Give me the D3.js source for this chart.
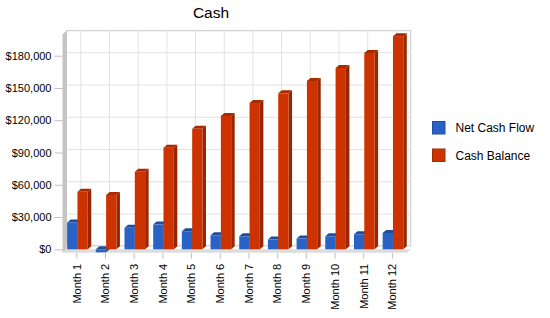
<!DOCTYPE html>
<html>
<head>
<meta charset="utf-8">
<script src="https://cdn.jsdelivr.net/npm/d3@7"></script>
<style>
	body { margin: 0; background: #fff; }
	text { font-family: "Liberation Sans", Arial, sans-serif; }
</style>
</head>
<body>
<div id="chart"></div>
<script>

var months = ["Month 1", "Month 2", "Month 3", "Month 4", "Month 5", "Month 6",
			"Month 7", "Month 8", "Month 9", "Month 10", "Month 11", "Month 12"];
var netCashFlow = [25000, -2800, 20000, 23000, 16800, 13000, 12100, 9000, 10000, 12100, 14000, 15200];
var cashBalance = [53400, 50600, 72000, 94500, 112000, 124000, 136000, 145000, 156500, 168600, 182600, 198200];
var seriesNames = ["Net Cash Flow", "Cash Balance"];
var yTicks = [0, 30000, 60000, 90000, 120000, 150000, 180000];

function init(){

	var w = 550;
	var h = 318;

	//front plane of the plot and the 3d depth of walls / bars
	var left = 62.5, right = 406.7, top = 34.2, bottom = 249.3;
	var wallDx = 4, wallDy = 3.5;
	var barDx = 3.5, barDy = 3;

	var faces = [
		{front: "#2962c4", top: "#1f4c9e", side: "#1d478f", stroke: "#1f4c9e"},
		{front: "#cc3300", top: "#a82a00", side: "#992600", stroke: "#a82a00"}
	];

	var svg = d3.select("#chart")
				.append("svg")
				.attr("width", w)
				.attr("height", h);

	var x = d3.scaleBand()
				.domain(months)
				.range([left, right]);

	//two bars per month, pushed a little right of the centre
	var sub = d3.scaleBand()
				.domain([0, 1])
				.range([0.6, x.bandwidth() + 0.6])
				.paddingOuter(0.39);

	var y = d3.scaleLinear()
				.domain([0, 200000])
				.range([bottom, top]);

	//back wall
	svg.append("rect")
		.attr("x", left + wallDx)
		.attr("y", top - wallDy)
		.attr("width", right - left)
		.attr("height", bottom - top)
		.attr("fill", "#fff")
		.attr("stroke", "#c8c8c8");

	//horizontal grid lines on the back wall
	svg.selectAll("line.hgrid")
		.data(yTicks.slice(1))
		.enter()
		.append("line")
		.attr("class", "hgrid")
		.attr("x1", left + wallDx)
		.attr("x2", right + wallDx)
		.attr("y1", function(d) { return y(d) - wallDy + 0.5; })
		.attr("y2", function(d) { return y(d) - wallDy + 0.5; })
		.attr("stroke", "#e2e2e2");

	//vertical grid lines
	svg.selectAll("line.vgrid")
		.data(months)
		.enter()
		.append("line")
		.attr("class", "vgrid")
		.attr("x1", function(d) { return x(d) + x.bandwidth() / 2 + wallDx; })
		.attr("x2", function(d) { return x(d) + x.bandwidth() / 2 + wallDx; })
		.attr("y1", top - wallDy)
		.attr("y2", bottom)
		.attr("stroke", "#e2e2e2");

	//left wall
	svg.append("path")
		.attr("d", "M" + left + "," + (top) + "L" + (left + wallDx) + "," + (top - wallDy) +
			"L" + (left + wallDx) + "," + bottom + "L" + left + "," + (bottom + wallDy) + "Z")
		.attr("fill", "#c4c4c4");

	//floor
	svg.append("path")
		.attr("d", "M" + left + "," + (bottom + wallDy) + "L" + (left + wallDx) + "," + bottom +
			"L" + (right + wallDx) + "," + bottom + "L" + right + "," + (bottom + wallDy) + "Z")
		.attr("fill", "#dcdcdc");

	//y axis
	var yAxis = d3.axisLeft(y)
				.tickValues(yTicks)
				.tickSize(8)
				.tickPadding(3)
				.tickFormat(function(d) { return "$" + d3.format(",")(d); });

	var gy = svg.append("g")
				.attr("transform", "translate(" + left + ",0)")
				.call(yAxis);
	gy.select(".domain").remove();
	gy.selectAll("line").attr("stroke", "#c0c0c0");
	gy.selectAll("text").attr("font-size", 11).attr("fill", "#000");

	//x axis below the floor
	var xAxis = d3.axisBottom(x).tickSize(6).tickPadding(4);
	var gx = svg.append("g")
				.attr("transform", "translate(0," + (bottom + wallDy) + ")")
				.call(xAxis);
	gx.select(".domain").remove();
	gx.selectAll("line").attr("stroke", "#c0c0c0");
	gx.selectAll("text")
		.attr("font-size", 11)
		.attr("fill", "#000")
		.attr("text-anchor", "end")
		.attr("dy", "0.35em")
		.attr("transform", "translate(0,11) rotate(-90)")
		.attr("x", 0)
		.attr("y", 0);

	//bars, one group per month
	var rows = months.map(function(m, i) {
		return {month: m, values: [netCashFlow[i], cashBalance[i]]};
	});

	var groups = svg.selectAll("g.month")
					.data(rows)
					.enter()
					.append("g")
					.attr("class", "month")
					.attr("transform", function(d) { return "translate(" + x(d.month) + ",0)"; });

	var bars = groups.selectAll("g.bar")
					.data(function(d) { return d.values; })
					.enter()
					.append("g")
					.attr("class", "bar");

	var bw = sub.bandwidth();

	//side face
	bars.append("path")
		.attr("d", function(d, i) {
			var x0 = sub(i) + bw, y0 = Math.min(y(d), y(0)), y1 = Math.max(y(d), y(0));
			return "M" + x0 + "," + y0 + "l" + barDx + "," + (-barDy) + "L" + (x0 + barDx) + "," + (y1 - barDy) +
				"L" + x0 + "," + y1 + "Z";
		})
		.attr("fill", function(d, i) { return faces[i].side; });

	//top face
	bars.append("path")
		.attr("d", function(d, i) {
			var x0 = sub(i), y0 = Math.min(y(d), y(0));
			return "M" + x0 + "," + y0 + "l" + barDx + "," + (-barDy) + "l" + bw + ",0l" + (-barDx) + "," + barDy + "Z";
		})
		.attr("fill", function(d, i) { return faces[i].top; });

	//front face
	bars.append("rect")
		.attr("x", function(d, i) { return sub(i); })
		.attr("y", function(d) { return Math.min(y(d), y(0)); })
		.attr("width", bw)
		.attr("height", function(d) { return Math.abs(y(d) - y(0)); })
		.attr("fill", function(d, i) { return faces[i].front; });

	//title
	svg.append("text")
		.attr("x", 211)
		.attr("y", 18)
		.attr("text-anchor", "middle")
		.attr("font-size", 15.5)
		.text("Cash");

	//legend
	var legend = svg.selectAll("g.legend")
					.data(seriesNames)
					.enter()
					.append("g")
					.attr("class", "legend")
					.attr("transform", function(d, i) { return "translate(432," + (121 + i * 27.5) + ")"; });

	legend.append("rect")
		.attr("x", 0.5)
		.attr("y", 0.5)
		.attr("width", 12.5)
		.attr("height", 12.5)
		.attr("fill", function(d, i) { return faces[i].front; })
		.attr("stroke", function(d, i) { return faces[i].stroke; });

	legend.append("text")
		.attr("x", 23.5)
		.attr("y", 7)
		.attr("dy", "0.35em")
		.attr("font-size", 12)
		.text(function(d) { return d; });
}

window.onload = init;
</script>
</body>
</html>
